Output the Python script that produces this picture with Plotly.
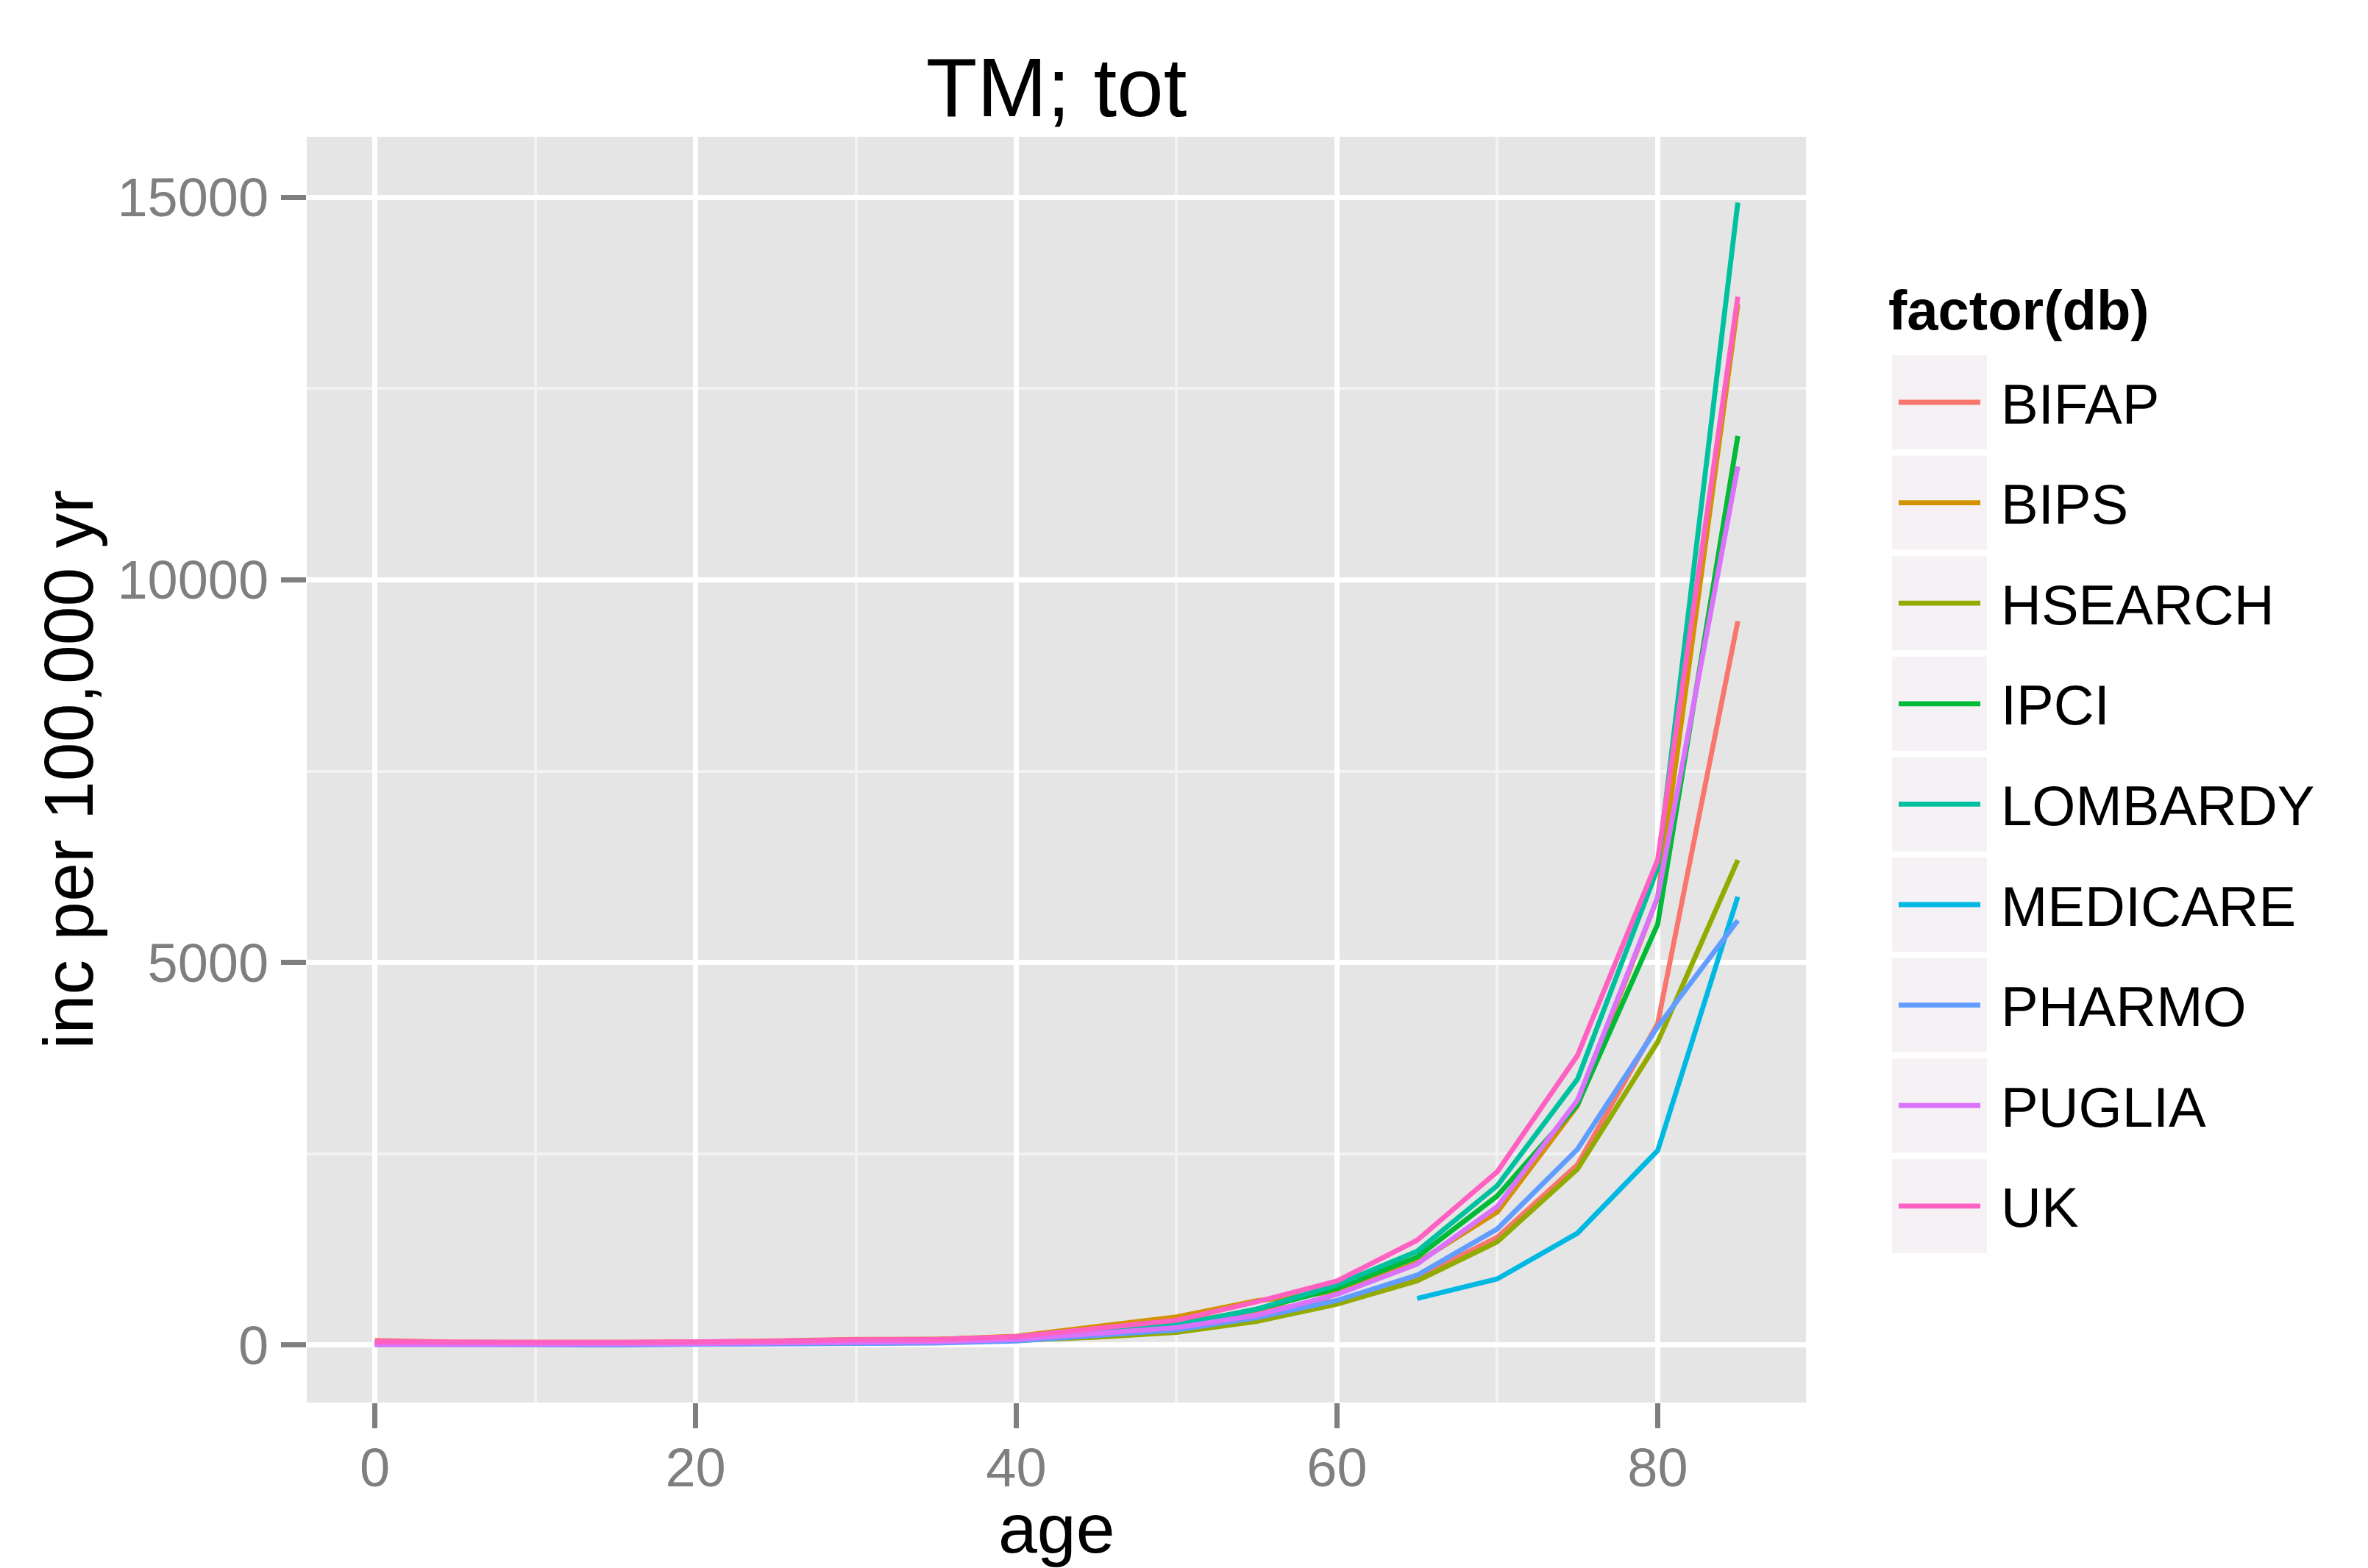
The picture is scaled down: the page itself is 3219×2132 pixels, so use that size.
import plotly.graph_objects as go

# ---------------- data ----------------
ages = [0, 5, 10, 15, 20, 25, 30, 35, 40, 45, 50, 55, 60, 65, 70, 75, 80, 85]
db_names = ["BIFAP", "BIPS", "HSEARCH", "IPCI", "LOMBARDY", "MEDICARE", "PHARMO", "PUGLIA", "UK"]
db_colors = ["#F8766D", "#D39200", "#93AA00", "#00BA38", "#00C19F", "#00B9E3", "#619CFF", "#DB72FB", "#FF61C3"]

bifap = [60, 38, 38, 38, 40, 55, 75, 78, 100, 170, 290, 450, 580, 880, 1410, 2360, 4200, 9460]
bips = [40, 30, 30, 32, 38, 50, 70, 75, 115, 245, 368, 580, 700, 1080, 1740, 3130, 5850, 13600]
hsearch = [15, 10, 10, 12, 20, 28, 35, 40, 60, 105, 166, 310, 535, 840, 1350, 2300, 3960, 6340]
ipci = [25, 15, 18, 22, 28, 38, 50, 58, 90, 160, 262, 470, 742, 1150, 1950, 3140, 5500, 11880]
lombardy = [30, 20, 22, 25, 30, 40, 55, 60, 95, 170, 262, 470, 790, 1225, 2085, 3475, 6230, 14930]
medicare = [None] * 13 + [610, 866, 1463, 2542, 5860]
pharmo = [8, 3, 2, 2, 10, 18, 22, 28, 55, 120, 198, 358, 583, 914, 1518, 2560, 4160, 5550]
puglia = [5, 5, 8, 12, 20, 30, 40, 45, 75, 150, 230, 390, 662, 1060, 1810, 3200, 5850, 11480]
uk = [45, 35, 35, 35, 38, 50, 70, 72, 110, 214, 326, 566, 838, 1371, 2267, 3786, 6340, 13700]

series = [bifap, bips, hsearch, ipci, lombardy, medicare, pharmo, puglia, uk]

x_ticks = [0, 20, 40, 60, 80]
y_ticks = [0, 5000, 10000, 15000]
x_title = "age"
y_title = "inc per 100,000 yr"
legend_title = "factor(db)"
plot_title = "TM; tot"

# ---------------- layout geometry (screen pixels) ----------------
W, H = 3219, 2132
PL, PR, PT, PB = 417, 2455, 186, 1907  # panel edges
FONT = "Liberation Sans, Arial, Helvetica, sans-serif"


def px2paper_x(px):
    return (px - PL) / (PR - PL)


def px2paper_y(py):
    return (PB - py) / (PB - PT)


fig = go.Figure()
for name, col, vals in zip(db_names, db_colors, series):
    fig.add_trace(go.Scatter(
        x=ages, y=vals, mode="lines", name=name,
        line=dict(color=col, width=6.8), connectgaps=False, showlegend=False,
    ))

axis_common = dict(
    showline=False, zeroline=False, automargin=False,
    gridcolor="#FFFFFF", gridwidth=6.5,
    ticks="outside", ticklen=34, tickwidth=7, tickcolor="#7F7F7F",
    tickfont=dict(family=FONT, size=74, color="#7F7F7F"),
)

fig.update_xaxes(
    **axis_common,
    range=[-4.25, 89.25], tickvals=x_ticks, ticktext=[str(v) for v in x_ticks],
    ticklabelstandoff=-10,
    minor=dict(tickvals=[10, 30, 50, 70], showgrid=True, gridcolor="#F2F2F2", gridwidth=3.5, ticks=""),
)
fig.update_yaxes(
    **axis_common,
    range=[-750, 15790], tickvals=y_ticks, ticktext=[str(v) for v in y_ticks],
    ticklabelstandoff=2,
    minor=dict(tickvals=[2500, 7500, 12500], showgrid=True, gridcolor="#F2F2F2", gridwidth=3.5, ticks=""),
)

# ---------------- axis titles + manual legend (ggplot style) ----------------
shapes = []
annotations = [
    dict(xref="paper", yref="paper", x=0.5, y=px2paper_y(2078),
         xanchor="center", yanchor="middle", showarrow=False,
         text=x_title, font=dict(family=FONT, size=95, color="#000000")),
    dict(xref="paper", yref="paper", x=px2paper_x(92), y=0.5,
         xanchor="center", yanchor="middle", showarrow=False, textangle=-90,
         text=y_title, font=dict(family=FONT, size=95, color="#000000")),
    dict(xref="paper", yref="paper", x=px2paper_x(2565), y=px2paper_y(421),
         xanchor="left", yanchor="middle", showarrow=False,
         text="<b>" + legend_title + "</b>", font=dict(family=FONT, size=76, color="#000000")),
]
key_top0, key_step, key_h = 483, 136.6, 128
for i, (name, col) in enumerate(zip(db_names, db_colors)):
    top = key_top0 + i * key_step
    cy = top + key_h / 2
    shapes.append(dict(
        type="rect", xref="paper", yref="paper",
        x0=px2paper_x(2572), x1=px2paper_x(2701), y0=px2paper_y(top + key_h), y1=px2paper_y(top),
        fillcolor="#F5F1F4", line=dict(width=0), layer="below",
    ))
    shapes.append(dict(
        type="line", xref="paper", yref="paper",
        x0=px2paper_x(2581), x1=px2paper_x(2692), y0=px2paper_y(cy), y1=px2paper_y(cy),
        line=dict(color=col, width=6.8),
    ))
    annotations.append(dict(
        xref="paper", yref="paper", x=px2paper_x(2718), y=px2paper_y(cy + 2),
        xanchor="left", yanchor="middle", showarrow=False,
        text=name, font=dict(family=FONT, size=76, color="#000000"),
    ))

fig.update_layout(
    width=W, height=H,
    margin=dict(l=PL, r=W - PR, t=PT, b=H - PB, pad=0, autoexpand=False),
    paper_bgcolor="#FFFFFF", plot_bgcolor="#E5E5E5",
    title=dict(text=plot_title, x=0.5, xref="paper", xanchor="center",
               y=1 - 118 / H, yref="container", yanchor="middle",
               font=dict(family=FONT, size=114, color="#000000")),
    font=dict(family=FONT),
    showlegend=False,
    shapes=shapes, annotations=annotations,
)

fig.write_html(
    "out.html",
    config={"displayModeBar": False},
    post_script="document.body.style.margin='0';document.body.style.overflow='hidden';",
)
